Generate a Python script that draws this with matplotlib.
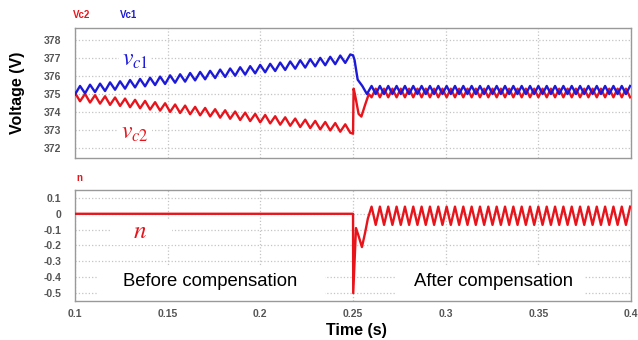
import numpy as np
import matplotlib
matplotlib.use("Agg")
import matplotlib.pyplot as plt
from matplotlib.patches import Rectangle

# ---- data (ripple extrema, s / V) ----
t_before = [0.1, 0.1027, 0.1054, 0.1081, 0.1108, 0.1135, 0.1162, 0.1189, 0.1216, 0.1243,
            0.127, 0.1297, 0.1324, 0.1351, 0.1378, 0.1405, 0.1432, 0.1459, 0.1486, 0.1513,
            0.154, 0.1567, 0.1594, 0.1621, 0.1648, 0.1675, 0.1702, 0.1729, 0.1756, 0.1783,
            0.181, 0.1837, 0.1864, 0.1891, 0.1918, 0.1945, 0.1972, 0.1999, 0.2026, 0.2053,
            0.208, 0.2107, 0.2134, 0.2161, 0.2188, 0.2215, 0.2242, 0.2269, 0.2296, 0.2323,
            0.235, 0.2377, 0.2404, 0.2431, 0.2458, 0.2485]
vc1_before = [374.98, 375.45, 375.04, 375.52, 375.11, 375.58, 375.17, 375.65, 375.24, 375.71,
              375.30, 375.78, 375.37, 375.84, 375.43, 375.91, 375.50, 375.97, 375.56, 376.04,
              375.63, 376.10, 375.69, 376.17, 375.76, 376.23, 375.82, 376.29, 375.89, 376.36,
              375.95, 376.42, 376.02, 376.49, 376.08, 376.55, 376.15, 376.62, 376.21, 376.68,
              376.28, 376.75, 376.34, 376.81, 376.41, 376.88, 376.47, 376.94, 376.54, 377.01,
              376.60, 377.07, 376.66, 377.14, 376.73, 377.20]
vc2_before = [375.07, 374.60, 375.01, 374.53, 374.94, 374.47, 374.88, 374.40, 374.81, 374.34,
              374.75, 374.27, 374.68, 374.21, 374.62, 374.14, 374.55, 374.08, 374.49, 374.01,
              374.42, 373.95, 374.36, 373.88, 374.29, 373.82, 374.23, 373.76, 374.16, 373.69,
              374.10, 373.63, 374.03, 373.56, 373.97, 373.50, 373.90, 373.43, 373.84, 373.37,
              373.77, 373.30, 373.71, 373.24, 373.64, 373.17, 373.58, 373.11, 373.51, 373.04,
              373.45, 372.98, 373.39, 372.91, 373.32, 372.85]

t_vc1_step = [0.2500, 0.2508, 0.2525, 0.2550, 0.2575]
vc1_step = [377.15, 376.9, 375.8, 375.45, 375.0]
t_vc2_step = [0.2500, 0.2503, 0.2510, 0.2530, 0.2545, 0.2565, 0.2585]
vc2_step = [372.8, 375.3, 375.0, 373.9, 373.75, 374.4, 375.0]

t_after = [0.26, 0.26225, 0.2645, 0.26675, 0.269, 0.27125, 0.2735, 0.27575, 0.278, 0.28025,
           0.2825, 0.28475, 0.287, 0.28925, 0.2915, 0.29375, 0.296, 0.29825, 0.3005, 0.30275,
           0.305, 0.30725, 0.3095, 0.31175, 0.314, 0.31625, 0.3185, 0.32075, 0.323, 0.32525,
           0.3275, 0.32975, 0.332, 0.33425, 0.3365, 0.33875, 0.341, 0.34325, 0.3455, 0.34775,
           0.35, 0.35225, 0.3545, 0.35675, 0.359, 0.36125, 0.3635, 0.36575, 0.368, 0.37025,
           0.3725, 0.37475, 0.377, 0.37925, 0.3815, 0.38375, 0.386, 0.38825, 0.3905, 0.39275,
           0.395, 0.39725, 0.3995]
vc1_after = [375.45, 375.0, 375.45, 375.0, 375.45, 375.0, 375.45, 375.0, 375.45, 375.0,
             375.45, 375.0, 375.45, 375.0, 375.45, 375.0, 375.45, 375.0, 375.45, 375.0,
             375.45, 375.0, 375.45, 375.0, 375.45, 375.0, 375.45, 375.0, 375.45, 375.0,
             375.45, 375.0, 375.45, 375.0, 375.45, 375.0, 375.45, 375.0, 375.45, 375.0,
             375.45, 375.0, 375.45, 375.0, 375.45, 375.0, 375.45, 375.0, 375.45, 375.0,
             375.45, 375.0, 375.45, 375.0, 375.45, 375.0, 375.45, 375.0, 375.45, 375.0,
             375.45, 375.0, 375.45]
vc2_after = [374.82, 375.3, 374.82, 375.3, 374.82, 375.3, 374.82, 375.3, 374.82, 375.3,
             374.82, 375.3, 374.82, 375.3, 374.82, 375.3, 374.82, 375.3, 374.82, 375.3,
             374.82, 375.3, 374.82, 375.3, 374.82, 375.3, 374.82, 375.3, 374.82, 375.3,
             374.82, 375.3, 374.82, 375.3, 374.82, 375.3, 374.82, 375.3, 374.82, 375.3,
             374.82, 375.3, 374.82, 375.3, 374.82, 375.3, 374.82, 375.3, 374.82, 375.3,
             374.82, 375.3, 374.82, 375.3, 374.82, 375.3, 374.82, 375.3, 374.82, 375.3,
             374.82, 375.3, 374.82]

t_n_before = [0.1, 0.25]
n_before = [0.0, 0.0]
t_n_step = [0.2500, 0.2501, 0.2516, 0.2530, 0.2548, 0.2565, 0.2580]
n_step = [0.0, -0.5, -0.09, -0.14, -0.21, -0.12, -0.03]
n_after = [0.045, -0.07, 0.045, -0.07, 0.045, -0.07, 0.045, -0.07, 0.045, -0.07,
           0.045, -0.07, 0.045, -0.07, 0.045, -0.07, 0.045, -0.07, 0.045, -0.07,
           0.045, -0.07, 0.045, -0.07, 0.045, -0.07, 0.045, -0.07, 0.045, -0.07,
           0.045, -0.07, 0.045, -0.07, 0.045, -0.07, 0.045, -0.07, 0.045, -0.07,
           0.045, -0.07, 0.045, -0.07, 0.045, -0.07, 0.045, -0.07, 0.045, -0.07,
           0.045, -0.07, 0.045, -0.07, 0.045, -0.07, 0.045, -0.07, 0.045, -0.07,
           0.045, -0.07, 0.045]

x_ticks = [0.1, 0.15, 0.2, 0.25, 0.3, 0.35, 0.4]
x_ticklabels = ["0.1", "0.15", "0.2", "0.25", "0.3", "0.35", "0.4"]
v_ticks = [372, 373, 374, 375, 376, 377, 378]
n_ticks = [0.1, 0, -0.1, -0.2, -0.3, -0.4, -0.5]
n_ticklabels = ["0.1", "0", "-0.1", "-0.2", "-0.3", "-0.4", "-0.5"]

RED = "#e8141c"
BLUE = "#1c1ad8"
TICK_COL = "#555555"

plt.rcParams["font.family"] = ["Liberation Sans", "DejaVu Sans"]
plt.rcParams["mathtext.fontset"] = "stix"

fig = plt.figure(figsize=(6.38, 3.4), dpi=100)
ax1 = fig.add_axes([0.1176, 0.5353, 0.8715, 0.3824])
ax2 = fig.add_axes([0.1176, 0.1147, 0.8715, 0.3265])

# top: capacitor voltages
t_vc1 = np.concatenate([t_before, t_vc1_step, t_after])
v_c1 = np.concatenate([vc1_before, vc1_step, vc1_after])
t_vc2 = np.concatenate([t_before, t_vc2_step, t_after])
v_c2 = np.concatenate([vc2_before, vc2_step, vc2_after])
ax1.plot(t_vc2, v_c2, color=RED, lw=1.7, zorder=3)
ax1.plot(t_vc1, v_c1, color=BLUE, lw=1.7, zorder=4)
ax1.set_ylim(371.45, 378.67)
ax1.set_yticks(v_ticks)

# bottom: n
t_n = np.concatenate([t_n_before, t_n_step, t_after])
n_val = np.concatenate([n_before, n_step, n_after])
ax2.plot(t_n, n_val, color=RED, lw=1.7, zorder=3)
ax2.set_ylim(-0.55, 0.15)
ax2.set_yticks(n_ticks)
ax2.set_yticklabels(n_ticklabels)

for ax in (ax1, ax2):
    ax.set_xlim(0.1, 0.4)
    ax.set_xticks(x_ticks)
    ax.set_xticklabels(x_ticklabels)
    ax.grid(True, color="#c4c4c4", linestyle=":", linewidth=0.9, zorder=0)
    ax.set_axisbelow(True)
    for sp in ax.spines.values():
        sp.set_color("#999999")
        sp.set_linewidth(1.0)
    ax.tick_params(length=0, labelsize=7.5, labelcolor=TICK_COL, pad=10)
    for lab in ax.get_yticklabels() + ax.get_xticklabels():
        lab.set_fontweight("bold")
ax2.tick_params(axis="x", pad=6)
ax1.tick_params(axis="x", labelbottom=False)

# trace names above the panels
fig.text(73 / 638, 1 - 15 / 340, "Vc2", color=RED, fontsize=7, fontweight="bold", va="center")
fig.text(120 / 638, 1 - 15 / 340, "Vc1", color=BLUE, fontsize=7, fontweight="bold", va="center")
fig.text(76 / 638, 1 - 178 / 340, "n", color=RED, fontsize=7, fontweight="bold", va="center")

# in-plot labels
white = dict(facecolor="white", edgecolor="none", pad=2)
ax1.text(0.108, 0.754, r"$v_{c1}$", color=BLUE, fontsize=17, ha="center", va="center",
         transform=ax1.transAxes, bbox=white, zorder=5)
ax1.text(0.108, 0.19, r"$v_{c2}$", color=RED, fontsize=17, ha="center", va="center",
         transform=ax1.transAxes, bbox=white, zorder=5)
ax2.add_patch(Rectangle((0.063, 0.5), 0.111, 0.24, transform=ax2.transAxes,
                        facecolor="white", edgecolor="none", zorder=1))
ax2.text(0.117, 0.63, r"$n$", color=RED, fontsize=18, ha="center", va="center",
         transform=ax2.transAxes, zorder=5)

ax2.add_patch(Rectangle((0.041, 0.0), 0.409, 0.315, transform=ax2.transAxes,
                        facecolor="white", edgecolor="none", zorder=1))
ax2.text(0.086, 0.18, "Before compensation", fontsize=13.3, ha="left", va="center",
         transform=ax2.transAxes, zorder=5)
ax2.add_patch(Rectangle((0.576, 0.0), 0.341, 0.315, transform=ax2.transAxes,
                        facecolor="white", edgecolor="none", zorder=1))
ax2.text(0.61, 0.18, "After compensation", fontsize=13.3, ha="left", va="center",
         transform=ax2.transAxes, zorder=5)

fig.text(18 / 638, 1 - 93 / 340, "Voltage (V)", rotation=90, fontsize=11.5,
         fontweight="bold", ha="center", va="center")
fig.text(356 / 638, 1 - 330 / 340, "Time (s)", fontsize=11.5, fontweight="bold",
         ha="center", va="center")

fig.savefig("out.png", dpi=100)
